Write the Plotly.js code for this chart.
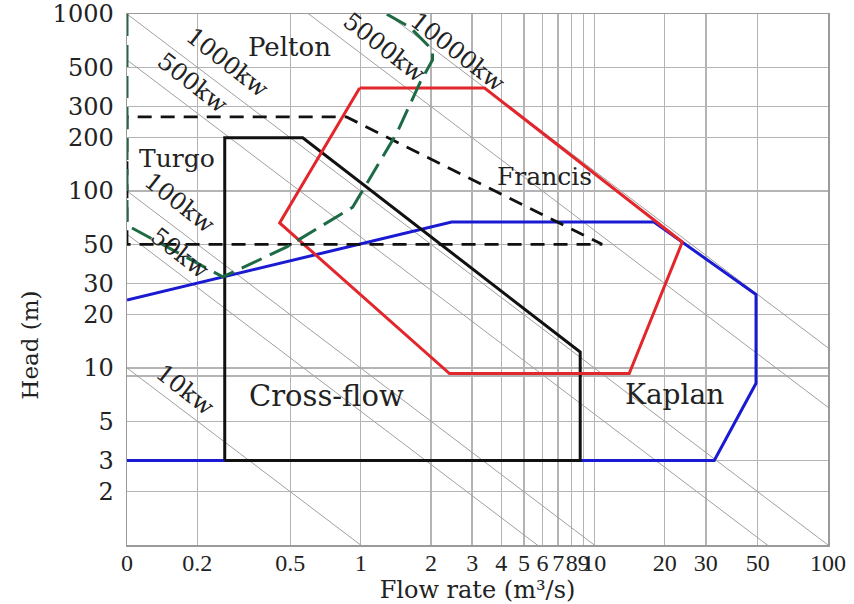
<!DOCTYPE html>
<html>
<head>
<meta charset="utf-8">
<script src="https://cdn.plot.ly/plotly-3.0.1.min.js"></script>
<style>html,body{margin:0;padding:0;background:#fff;}</style>
</head>
<body>
<div id="chart" style="width:854px;height:604px;"></div>
<script>
// ---- data (flow rate Q in m3/s, head H in m) ----
var xTickVals = [0.1, 0.2, 0.5, 1, 2, 3, 4, 5, 6, 7, 8, 9, 10, 20, 30, 50, 100];
var xTickText = ['0', '0.2', '0.5', '1', '2', '3', '4', '5', '6', '7', '8', '9', '10', '20', '30', '50', '100'];
var yTickVals = [2, 3, 5, 9, 10, 20, 30, 50, 100, 200, 300, 500, 1000];
var yTickText = ['2', '3', '5', '', '10', '20', '30', '50', '100', '200', '300', '500', '1000'];

// constant-power lines: label and Q*H product
var powerLabels = ['10kw', '50kw', '100kw', '500kw', '1000kw', '5000kw', '10000kw'];
var powerQH = [1.0, 5.7, 10, 55, 100, 600, 1300];

var peltonQ = [0.1, 0.1, 0.257, 0.483, 0.924, 1.43, 1.79, 2.03, 2.03, 1.62, 1.29];
var peltonH = [1000, 64, 32.7, 48.3, 81, 213, 407, 550, 626, 845, 1000];

var turgoQ = [0.1, 0.1, 0.87, 10.8, 0.1];
var turgoH = [50, 262, 262, 50, 50];

var crossQ = [0.262, 0.262, 0.565, 8.7, 8.7, 0.262];
var crossH = [3, 200, 200, 12.3, 3, 3];

var francisQ = [0.99, 3.39, 23.8, 14.1, 2.4, 0.45, 0.99];
var francisH = [382, 382, 51.5, 9.3, 9.3, 66, 382];

var kaplanQ = [0.1, 2.45, 18, 23.8, 49.2, 49.2, 32.6, 0.1];
var kaplanH = [24.2, 66.8, 66.8, 51.5, 26, 8.2, 3, 3];

// ---- traces ----
var FONT = 'DejaVu Serif, Liberation Serif, serif';
var traces = [];
var qEnds = [0.01, 1000];
for (var i = 0; i < powerQH.length; i++) {
  traces.push({
    x: qEnds,
    y: qEnds.map(function (q) { return powerQH[i] / q; }),
    mode: 'lines', type: 'scatter', hoverinfo: 'skip',
    line: {color: '#a0a0a0', width: 1}
  });
}
traces.push({x: kaplanQ, y: kaplanH, mode: 'lines', type: 'scatter',
  line: {color: '#1a1ad2', width: 3}});
traces.push({x: crossQ, y: crossH, mode: 'lines', type: 'scatter',
  line: {color: '#111111', width: 3}});
traces.push({x: francisQ, y: francisH, mode: 'lines', type: 'scatter',
  line: {color: '#e3262b', width: 3}});
traces.push({x: turgoQ, y: turgoH, mode: 'lines', type: 'scatter',
  line: {color: '#111111', width: 2.8, dash: '14px,9px'}});
traces.push({x: peltonQ, y: peltonH, mode: 'lines', type: 'scatter',
  line: {color: '#1d6b44', width: 3, dash: '22px,9px'}});

// ---- annotations ----
function lab(text, q, h, size, angle) {
  return {x: Math.log10(q), y: Math.log10(h), xref: 'x', yref: 'y', text: text,
    showarrow: false, textangle: angle || 0,
    font: {family: FONT, size: size, color: '#222'}};
}
var annotations = [
  lab('Pelton', 0.497, 651, 26),
  lab('Turgo', 0.164, 153, 25),
  lab('Francis', 6.1, 121, 25),
  lab('Cross-flow', 0.716, 6.95, 29),
  lab('Kaplan', 22, 7.04, 28),
  lab(powerLabels[4], 0.27, 529, 24, 38),
  lab(powerLabels[3], 0.191, 408, 24, 38),
  lab(powerLabels[5], 1.27, 643, 24, 38),
  lab(powerLabels[6], 2.6, 610, 24, 38),
  lab(powerLabels[2], 0.168, 85.6, 24, 38),
  lab(powerLabels[1], 0.168, 44.6, 24, 38),
  lab(powerLabels[0], 0.177, 7.5, 24, 38),
  {x: -0.16, y: 0.377, xref: 'paper', yref: 'paper', text: 'Head (m)',
    showarrow: false, textangle: -90,
    font: {family: FONT, size: 23, color: '#222'}}
];

var layout = {
  width: 854, height: 604,
  margin: {l: 127, r: 26, t: 14, b: 59},
  paper_bgcolor: '#fff', plot_bgcolor: '#fff',
  showlegend: false,
  xaxis: {
    type: 'log', range: [-1, 2],
    tickmode: 'array', tickvals: xTickVals, ticktext: xTickText,
    tickangle: 0, ticklabelstandoff: -4,
    tickfont: {family: 'Liberation Serif, serif', size: 24, color: '#222'},
    showgrid: true, gridcolor: '#b4b4b4', gridwidth: 1.5,
    showline: true, linecolor: '#9a9a9a', linewidth: 1.5, mirror: true,
    zeroline: false, ticks: '',
    title: {text: 'Flow rate (m³/s)', standoff: 8,
      font: {family: FONT, size: 24, color: '#222'}}
  },
  yaxis: {
    type: 'log', range: [0, 3],
    tickmode: 'array', tickvals: yTickVals, ticktext: yTickText,
    tickfont: {family: FONT, size: 24, color: '#222'},
    showgrid: true, gridcolor: '#b4b4b4', gridwidth: 1.5,
    showline: true, linecolor: '#9a9a9a', linewidth: 1.5, mirror: true,
    zeroline: false, ticks: 'outside', ticklen: 7, tickcolor: 'rgba(0,0,0,0)'
  },
  annotations: annotations
};

Plotly.newPlot('chart', traces, layout, {displayModeBar: false, staticPlot: true});
</script>
</body>
</html>
